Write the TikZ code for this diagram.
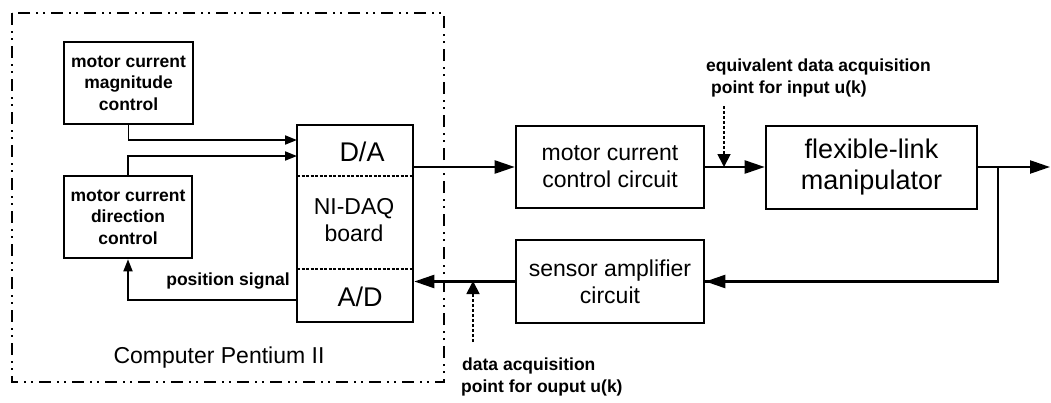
\documentclass[tikz,border=0pt]{standalone}
\usepackage{fontspec}
\setmainfont{Liberation Sans}
\usepackage{tikz}
\usetikzlibrary{arrows.meta,positioning}

\tikzset{
  blk/.style={draw, line width=2.6pt, inner sep=0pt, align=center},
  bigtxt/.style={font=\fontsize{23}{27}\selectfont},
  hugetxt/.style={font=\fontsize{27}{31}\selectfont},
  lbl/.style={font=\fontsize{17.5}{21.5}\selectfont\bfseries, inner sep=0pt},
  arr/.style={line width=2.3pt, -{Triangle[length=20pt,width=13pt]}},
  sarr/.style={line width=1.8pt, -{Triangle[length=12pt,width=9pt]}},
  dasharr/.style={line width=1.8pt, dash pattern=on 3pt off 2pt, -{Triangle[length=13pt,width=13pt]}}
}

\begin{document}
\begin{tikzpicture}[x=1pt, y=-1pt, line join=miter]
  \useasboundingbox (0,0) rectangle (1051,402);
  % computer frame, dash-dot-dot
  \draw[line width=2.3pt, dash pattern=on 12pt off 6pt on 2pt off 5pt on 2pt off 6pt]
    (12,13) rectangle (444,382);
  \node[bigtxt] (pc) at (219,358) {Computer Pentium II};

  % software blocks
  \node[blk, lbl, minimum width=129pt, minimum height=82pt] (mag) at (128.5,83)
    {motor current\\magnitude\\control};
  \node[blk, lbl, minimum width=128pt, minimum height=82pt] (dir) at (128,217)
    {motor current\\direction\\control};

  % NI-DAQ board with its two channels
  \node[blk, minimum width=116pt, minimum height=197pt] (board) at (355,223.5) {};
  \draw[line width=1.6pt, dash pattern=on 3pt off 1.5pt] (297,176) -- (413,176);
  \draw[line width=1.6pt, dash pattern=on 3pt off 1.5pt] (297,269) -- (413,269);
  \node[hugetxt] (da) at (362,152) {D/A};
  \node[bigtxt, align=center] (daq) at (354,220) {NI-DAQ\\board};
  \node[hugetxt] (ad) at (360,297) {A/D};

  % plant side
  \node[blk, bigtxt, minimum width=188pt, minimum height=82pt] (mcc) at (610,167)
    {motor current\\control circuit};
  \node[blk, hugetxt, minimum width=211pt, minimum height=83pt] (flm) at (871.5,167.5)
    {flexible-link\\manipulator};
  \node[blk, bigtxt, minimum width=188pt, minimum height=83pt] (sac) at (610,281.5)
    {sensor amplifier\\circuit};

  % points used for the connectors
  \coordinate (inmag) at (297,140);
  \coordinate (indir) at (297,156);
  \coordinate (adout) at (297,300);
  \coordinate (tap) at (998,167);
  \coordinate (yout) at (1050,167);
  \coordinate (acqin) at (724,167);
  \coordinate (acqinsrc) at (724,106);
  \coordinate (acqout) at (473,281);
  \coordinate (acqoutsrc) at (473,342);

  % inside the computer
  \draw[sarr] (mag.south) |- (inmag);
  \draw[sarr] (dir.north) |- (indir);
  \draw[sarr] (adout) -| (dir.south);
  \node[lbl, anchor=east] (pos) at (290,281) {position signal};

  % loop
  \draw[arr] (board.east |- mcc.west) -- (mcc.west);
  \draw[arr] (mcc.east) -- (flm.west |- mcc.east);
  \draw[arr] (flm.east |- tap) -- (yout);
  \draw[line width=2.3pt] (tap) |- (sac.east);
  \draw[arr] (tap |- sac.east) -- (sac.east);
  \draw[arr] (sac.west) -- (board.east |- sac.west);

  % acquisition points
  \draw[dasharr] (acqinsrc) -- (acqin);
  \node[lbl, anchor=south west, align=left] (acqinlbl) at (706,97)
    {equivalent data acquisition\\\hspace{5pt}point for input u(k)};
  \draw[dasharr] (acqoutsrc) -- (acqout);
  \node[lbl, anchor=north west, align=left] (acqoutlbl) at (461,358)
    {\hspace{1pt}data acquisition\\point for ouput u(k)};
\end{tikzpicture}
\end{document}
